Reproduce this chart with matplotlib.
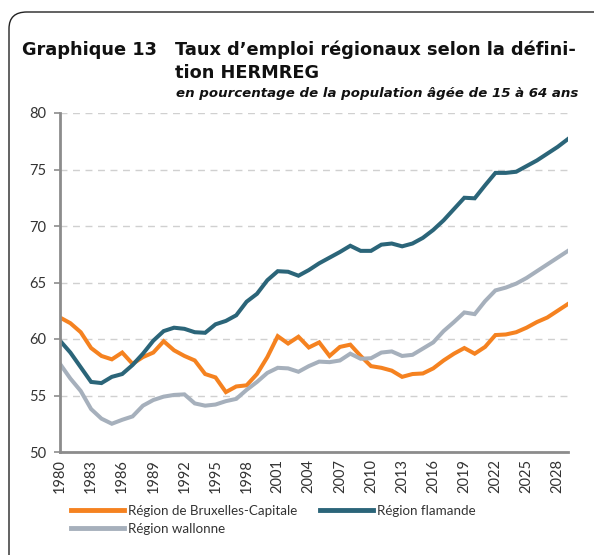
import matplotlib
matplotlib.use("Agg")
import matplotlib.pyplot as plt
from matplotlib.patches import FancyBboxPatch
from matplotlib.lines import Line2D

years = list(range(1980, 2030))
bruxelles = [61.9, 61.4, 60.6, 59.2, 58.5, 58.2, 58.8, 57.8, 58.4, 58.8, 59.8, 59.0, 58.5, 58.1, 56.9, 56.6,
             55.3, 55.8, 55.9, 56.9, 58.4, 60.25, 59.6, 60.2, 59.25, 59.7, 58.5, 59.3, 59.5, 58.5, 57.6, 57.45,
             57.2, 56.65, 56.9, 56.95, 57.4, 58.1, 58.7, 59.2, 58.7, 59.3, 60.35, 60.4, 60.6, 61.0, 61.5, 61.9,
             62.5, 63.1]
flamande = [59.85, 58.8, 57.5, 56.2, 56.1, 56.65, 56.9, 57.7, 58.7, 59.85, 60.7, 61.0, 60.9, 60.6, 60.55, 61.3,
            61.6, 62.1, 63.3, 64.0, 65.2, 66.0, 65.95, 65.6, 66.1, 66.7, 67.2, 67.7, 68.25, 67.8, 67.8, 68.35,
            68.45, 68.2, 68.45, 68.95, 69.65, 70.5, 71.5, 72.5, 72.45, 73.6, 74.7, 74.7, 74.8, 75.3, 75.8, 76.4,
            77.0, 77.7]
wallonne = [57.8, 56.5, 55.4, 53.8, 52.95, 52.5, 52.85, 53.15, 54.1, 54.6, 54.9, 55.05, 55.1, 54.3, 54.1, 54.2,
            54.5, 54.7, 55.5, 56.2, 57.0, 57.45, 57.4, 57.1, 57.6, 58.0, 57.95, 58.1, 58.7, 58.25, 58.3, 58.8,
            58.9, 58.5, 58.6, 59.15, 59.7, 60.7, 61.5, 62.35, 62.2, 63.35, 64.3, 64.55, 64.9, 65.4, 66.0, 66.6,
            67.2, 67.8]
series_names = ["Région de Bruxelles-Capitale", "Région flamande", "Région wallonne"]
xticks = list(range(1980, 2029, 3))
yticks = [50, 55, 60, 65, 70, 75, 80]

colors = ["#F58220", "#2B6579", "#A6B0BC"]
FONT = "Lato"

W, H = 594, 555
fig = plt.figure(figsize=(W / 100, H / 100), dpi=100)

# frame
frame = FancyBboxPatch((9 / W, -20 / H), (W + 20 - 9) / W, (H + 20 - 12) / H,
                       boxstyle="round,pad=0,rounding_size=0.03", transform=fig.transFigure,
                       facecolor="white", edgecolor="#222222", linewidth=1.0, clip_on=False, zorder=-10)
fig.patches.append(frame)

ax = fig.add_axes([60 / W, (H - 452) / H, (568 - 60) / W, (452 - 113) / H])
ax.set_facecolor("none")
for name, vals, c in zip(series_names, [bruxelles, flamande, wallonne], colors):
    ax.plot(years, vals, color=c, lw=2.9, solid_joinstyle="miter", label=name)

ax.set_xlim(1980, 2029)
ax.set_ylim(50, 80)
ax.set_yticks(yticks)
ax.set_xticks(xticks)
ax.set_xticklabels([str(x) for x in xticks], rotation=90, fontfamily=FONT, fontsize=10.5, color="#333333")
ax.set_yticklabels([str(y) for y in yticks], fontfamily=FONT, fontsize=10.5, color="#333333")
ax.grid(axis="y", color="#D0D0D0", linestyle=(0, (5, 4)), lw=1.0)
ax.set_axisbelow(True)
for s in ["top", "right"]:
    ax.spines[s].set_visible(False)
for s in ["left", "bottom"]:
    ax.spines[s].set_color("#8C8C8C")
    ax.spines[s].set_linewidth(2.0)
ax.tick_params(axis="y", length=4, width=1.2, color="#8C8C8C", pad=6)
ax.tick_params(axis="x", length=0, pad=5)

# titles
fig.text(22 / W, 1 - 55 / H, "Graphique 13", fontfamily="DejaVu Sans", fontweight="bold", fontsize=12.8,
         va="baseline", ha="left", color="#111111")
fig.text(175 / W, 1 - 55 / H, "Taux d\u2019emploi régionaux selon la défini-", fontfamily="DejaVu Sans",
         fontweight="bold", fontsize=12.8, va="baseline", ha="left", color="#111111")
fig.text(175 / W, 1 - 78 / H, "tion HERMREG", fontfamily="DejaVu Sans", fontweight="bold", fontsize=12.8,
         va="baseline", ha="left", color="#111111")
fig.text(578 / W, 1 - 97 / H, "en pourcentage de la population âgée de 15 à 64 ans", fontfamily="DejaVu Sans",
         fontweight="bold", fontstyle="italic", fontsize=9.6, va="baseline", ha="right", color="#111111")

# legend (column-major fill: Bruxelles, wallonne | flamande)
handles = [Line2D([0], [0], color=c, lw=3.5) for c in colors]
order = [0, 2, 1]
leg = fig.legend([handles[i] for i in order], [series_names[i] for i in order], loc="upper left",
                 bbox_to_anchor=(71 / W, 1 - 505 / H),
                 ncol=2, frameon=False, prop={"family": FONT, "size": 9.6}, handlelength=4.0,
                 handletextpad=0.3, columnspacing=1.65, labelspacing=0.42, borderaxespad=0,
                 borderpad=0)
for t in leg.get_texts():
    t.set_color("#333333")

fig.savefig("out.png", dpi=100)
